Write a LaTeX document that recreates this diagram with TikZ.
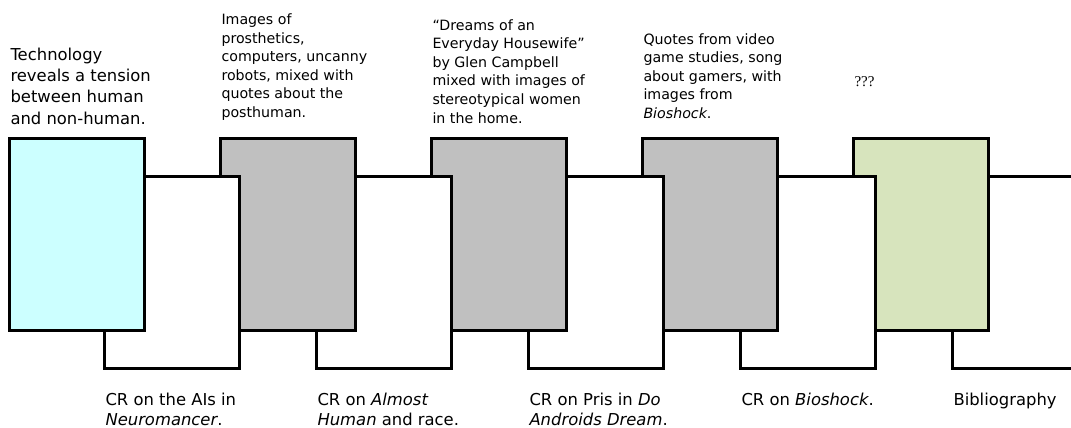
\documentclass[tikz,border=0pt]{standalone}
\usepackage{fontspec}
\setmainfont{DejaVu Sans}
\newfontfamily\qfont{Liberation Serif}
\definecolor{cyanfill}{HTML}{CCFFFF}
\definecolor{grayfill}{HTML}{C0C0C0}
\definecolor{greenfill}{HTML}{D7E4BD}
\begin{document}
\begin{tikzpicture}[x=1pt,y=-1pt, line width=3pt,
  panel/.style={draw=black, rectangle, anchor=north west, minimum width=135pt, minimum height=192pt, inner sep=0pt, outer sep=0pt},
  bigtext/.style={font=\fontsize{16.4}{21.3}\selectfont, align=left, anchor=base west, inner sep=0pt},
  smalltext/.style={font=\fontsize{14.2}{18.6}\selectfont, align=left, anchor=base west, inner sep=0pt},
  bottext/.style={font=\fontsize{16.4}{20}\selectfont, align=left, anchor=base west, inner sep=0pt}]
\useasboundingbox (0,0) rectangle (1071,428);
\clip (0,0) rectangle (1071,428);
% panels, drawn from right to left so each overlaps the next
\node[panel, fill=white] (w5) at (952,176) {};
\node[panel, fill=greenfill] (t5) at (853,138) {};
\node[panel, fill=white] (w4) at (740,176) {};
\node[panel, fill=grayfill] (t4) at (642,138) {};
\node[panel, fill=white] (w3) at (528,176) {};
\node[panel, fill=grayfill] (t3) at (431,138) {};
\node[panel, fill=white] (w2) at (316,176) {};
\node[panel, fill=grayfill] (t2) at (220,138) {};
\node[panel, fill=white] (w1) at (104,176) {};
\node[panel, fill=cyanfill] (t1) at (9,138) {};
% top captions (anchored at the baseline of their last line)
\node[bigtext] (d1) at (9,124) {Technology\\reveals a tension\\between human\\and non-human.};
\node[smalltext] (d2) at (220,117.5) {Images of\\prosthetics,\\computers, uncanny\\robots, mixed with\\quotes about the\\posthuman.};
\node[smalltext] (d3) at (431,123) {“Dreams of an\\Everyday Housewife”\\by Glen Campbell\\mixed with images of\\stereotypical women\\in the home.};
\node[smalltext] (d4) at (642,118.5) {Quotes from video\\game studies, song\\about gamers, with\\images from\\\textit{Bioshock}.};
\node[font=\qfont\fontsize{15}{18}\selectfont, anchor=base west, inner sep=0pt] (d5) at (853,87) {???};
% bottom captions
\node[bottext] (c1) at (104,425) {CR on the AIs in\\\textit{Neuromancer}.};
\node[bottext] (c2) at (316,425) {CR on \textit{Almost}\\\textit{Human} and race.};
\node[bottext] (c3) at (528,425) {CR on Pris in \textit{Do}\\\textit{Androids Dream}.};
\node[bottext] (c4) at (740,405) {CR on \textit{Bioshock}.};
\node[bottext] (c5) at (952,405) {Bibliography};
\end{tikzpicture}
\end{document}
